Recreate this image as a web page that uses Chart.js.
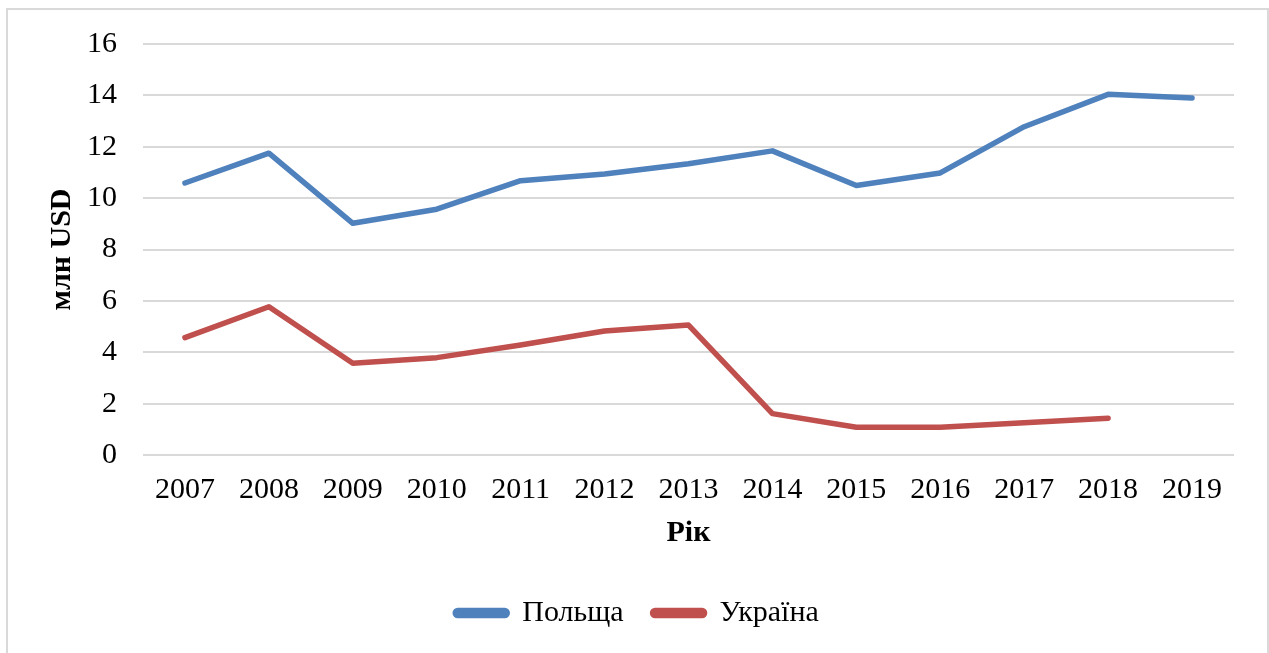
<!DOCTYPE html>
<html>
<head>
<meta charset="utf-8">
<script src="https://cdn.jsdelivr.net/npm/chart.js@4"></script>
<style>
	html, body { margin: 0; padding: 0; background: #fff; overflow: hidden; }
	#wrap { position: relative; width: 1269px; height: 653px; }
	#frame {
		position: absolute; left: 6px; top: 8px; width: 1259px; height: 660px;
		border: 2px solid #d9d9d9; pointer-events: none;
	}
</style>
</head>
<body>
<div id="wrap">
	<canvas id="chart" width="1269" height="653"></canvas>
	<div id="frame"></div>
</div>
<script>
// роки та значення (млн USD)
let years = ["2007", "2008", "2009", "2010", "2011", "2012", "2013", "2014", "2015", "2016", "2017", "2018", "2019"];
let poland = [10.59, 11.75, 9.02, 9.57, 10.68, 10.94, 11.34, 11.84, 10.49, 10.98, 12.78, 14.04, 13.9];
let ukraine = [4.57, 5.77, 3.57, 3.79, 4.28, 4.83, 5.06, 1.61, 1.08, 1.08, 1.26, 1.43, null];
let yTicks = [0, 2, 4, 6, 8, 10, 12, 14, 16];

const font = "'Liberation Serif', 'Times New Roman', serif";

new Chart(document.getElementById("chart"), {
	type: "line",
	data: {
		labels: years,
		datasets: [
			{
				label: "Польща",
				data: poland,
				borderColor: "#4f81bd",
				backgroundColor: "#4f81bd",
				borderWidth: 5.5,
				pointRadius: 0,
				borderCapStyle: "round",
				borderJoinStyle: "round",
				tension: 0
			},
			{
				label: "Україна",
				data: ukraine,
				borderColor: "#c0504d",
				backgroundColor: "#c0504d",
				borderWidth: 5.5,
				pointRadius: 0,
				borderCapStyle: "round",
				borderJoinStyle: "round",
				tension: 0
			}
		]
	},
	options: {
		responsive: false,
		animation: false,
		layout: { padding: { top: 39, right: 35, left: 40, bottom: 15 } },
		plugins: {
			tooltip: { enabled: false },
			legend: {
				position: "bottom",
				labels: {
					font: { family: font, size: 30 },
					color: "#000",
					boxWidth: 52,
					boxHeight: 5,
					useBorderRadius: true,
					borderRadius: 2.5,
					padding: 29
				}
			}
		},
		scales: {
			x: {
				offset: true,
				grid: { display: false, drawTicks: false },
				border: { display: false },
				ticks: { font: { family: font, size: 30 }, color: "#000", padding: 17, maxRotation: 0 },
				title: {
					display: true,
					text: "Рік",
					font: { family: font, size: 30, weight: "bold" },
					color: "#000",
					padding: { top: 0, bottom: 18 }
				},
				afterFit: (scale) => { scale.height = 114; }
			},
			y: {
				min: 0,
				max: 16,
				afterBuildTicks: (scale) => { scale.ticks = yTicks.map((v) => ({ value: v })); },
				grid: { color: "#d9d9d9", lineWidth: 2, drawTicks: false },
				border: { display: false },
				ticks: { font: { family: font, size: 30 }, color: "#000", padding: 26 },
				title: {
					display: true,
					text: "млн USD",
					font: { family: font, size: 30, weight: "bold" },
					color: "#000",
					padding: { top: 4, bottom: 0 }
				},
				afterFit: (scale) => { scale.width = 103; }
			}
		}
	}
});
</script>
</body>
</html>
